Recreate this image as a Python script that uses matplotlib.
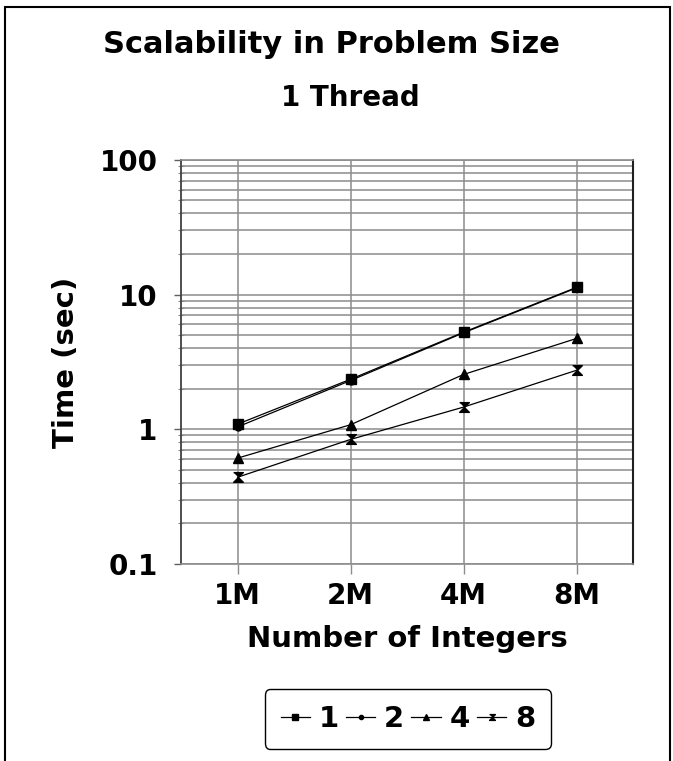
import matplotlib
matplotlib.use("Agg")
import matplotlib.pyplot as plt
from matplotlib.patches import Rectangle
from matplotlib.ticker import LogLocator, FixedLocator, NullFormatter

plt.rcParams['font.family'] = ['DejaVu Sans']
plt.rcParams['font.weight'] = 'bold'

# data
sizes = ["1M", "2M", "4M", "8M"]
t1 = [1.09, 2.35, 5.25, 11.3]
t2 = [1.04, 2.30, 5.20, 11.2]
t4 = [0.61, 1.08, 2.55, 4.72]
t8 = [0.44, 0.84, 1.46, 2.74]
labels = ["1", "2", "4", "8"]

hourglass = [(-1, 1), (1, 1), (0, 0), (1, -1), (-1, -1), (0, 0)]
markers = ["s", "o", "^", hourglass]
sizes_m = [7, 5, 7, 7]

fig = plt.figure(figsize=(6.73, 7.61), dpi=100)
ax = fig.add_axes([0.269, 0.259, 0.6716, 0.5309])

x = list(range(len(sizes)))
for ys, lab, mk, ms in zip([t1, t2, t4, t8], labels, markers, sizes_m):
    ax.plot(x, ys, color="black", lw=0.9, marker=mk, markersize=ms,
            markerfacecolor="black", markeredgecolor="black", label=lab)

ax.set_yscale("log")
ax.set_ylim(0.1, 100)
ax.set_xlim(-0.5, 3.5)
ax.yaxis.set_major_locator(FixedLocator([0.1, 1, 10, 100]))
ax.yaxis.set_minor_locator(LogLocator(base=10, subs=range(2, 10)))
ax.yaxis.set_minor_formatter(NullFormatter())
ax.set_yticklabels(["0.1", "1", "10", "100"])
ax.set_xticks(x)
ax.set_xticklabels(sizes)

ax.grid(True, which="both", axis="y", color="#8c8c8c", lw=1.1)
ax.grid(True, which="major", axis="x", color="#8c8c8c", lw=1.1)
ax.set_axisbelow(True)

ax.tick_params(axis="y", which="major", direction="out", length=5, width=1,
               color="#606060", labelsize=20, pad=12)
ax.tick_params(axis="y", which="minor", direction="inout", length=4, width=0.8,
               color="#8c8c8c")
ax.tick_params(axis="x", direction="out", length=7, width=1, color="#8c8c8c",
               labelsize=20, pad=6)
for s in ["top", "bottom"]:
    ax.spines[s].set_color("#8c8c8c")
    ax.spines[s].set_linewidth(1.2)
ax.spines["left"].set_color("#404040")
ax.spines["right"].set_color("#202020")
ax.spines["left"].set_linewidth(1.3)
ax.spines["right"].set_linewidth(1.5)

ax.set_ylabel("Time (sec)", fontsize=21, fontweight="bold", labelpad=14)
ax.set_xlabel("Number of Integers", fontsize=21, fontweight="bold", labelpad=11)

fig.text(0.492, 0.941, "Scalability in Problem Size", ha="center", va="center",
         fontsize=22, fontweight="bold")
fig.text(0.52, 0.871, "1 Thread", ha="center", va="center",
         fontsize=20, fontweight="bold")

leg = fig.legend(loc="center", bbox_to_anchor=(0.606, 0.055), ncol=4,
                 fontsize=21, handlelength=1.0, handletextpad=0.3,
                 columnspacing=0.25, borderpad=0.55, markerscale=0.6,
                 fancybox=True, framealpha=1, edgecolor="black")
leg.get_frame().set_linewidth(1.0)

fig.patches.append(Rectangle((0.007, -0.05), 0.988, 1.041, transform=fig.transFigure,
                             fill=False, edgecolor="black", lw=1.5))

fig.savefig("out.png", dpi=100)
